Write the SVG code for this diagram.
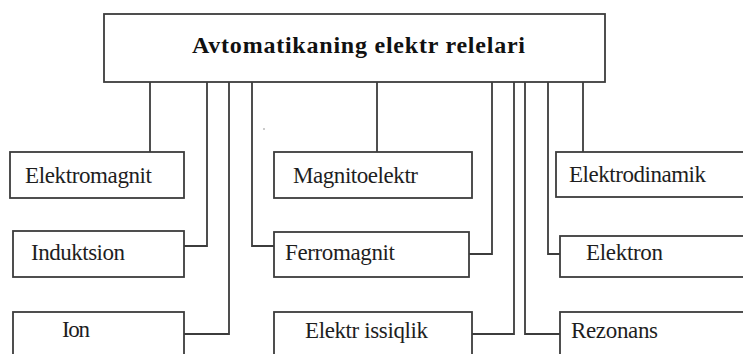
<svg xmlns="http://www.w3.org/2000/svg" width="743" height="354" viewBox="0 0 743 354">
<style>
.box{fill:#fff;stroke:#3c3c3c;stroke-width:1.8}
.ln{fill:none;stroke:#3c3c3c;stroke-width:1.8}
text{font-family:'Liberation Serif','DejaVu Serif',serif}
.t{font-size:23px;fill:#1e1e1e}
.title{font-size:24px;font-weight:bold;fill:#111}
</style>
<rect width="743" height="354" fill="#fff"/>
<g id="connectors">
<path class="ln" d="M150 82V152"/>
<path class="ln" d="M207 82V246H184"/>
<path class="ln" d="M229 82V334H184"/>
<path class="ln" d="M252 82V246H274"/>
<path class="ln" d="M377 82V152"/>
<path class="ln" d="M492 82V254H469"/>
<path class="ln" d="M514 82V334H471"/>
<path class="ln" d="M525 82V334H560"/>
<path class="ln" d="M548 82V254H560"/>
<path class="ln" d="M583 82V152"/>
</g>
<g id="root">
<rect class="box" x="104" y="14" width="501" height="68"/>
<text class="title" x="192" y="53" textLength="333" lengthAdjust="spacing">Avtomatikaning elektr relelari</text>
</g>
<g id="elektromagnit">
<rect class="box" x="10" y="152" width="174" height="46"/>
<text class="t" x="25" y="183" textLength="127" lengthAdjust="spacing">Elektromagnit</text>
</g>
<g id="magnitoelektr">
<rect class="box" x="274" y="152" width="198" height="46"/>
<text class="t" x="293" y="183" textLength="125" lengthAdjust="spacing">Magnitoelektr</text>
</g>
<g id="elektrodinamik">
<rect class="box" x="556" y="152" width="200" height="45"/>
<text class="t" x="569" y="182" textLength="137" lengthAdjust="spacing">Elektrodinamik</text>
</g>
<g id="induktsion">
<rect class="box" x="13" y="231" width="171" height="46"/>
<text class="t" x="31" y="260" textLength="94" lengthAdjust="spacing">Induktsion</text>
</g>
<g id="ferromagnit">
<rect class="box" x="274" y="232" width="195" height="45"/>
<text class="t" x="285" y="260" textLength="110" lengthAdjust="spacing">Ferromagnit</text>
</g>
<g id="elektron">
<rect class="box" x="560" y="236" width="196" height="41"/>
<text class="t" x="586" y="260" textLength="77" lengthAdjust="spacing">Elektron</text>
</g>
<g id="ion">
<rect class="box" x="13" y="312" width="171" height="60"/>
<text class="t" x="62" y="337" textLength="28" lengthAdjust="spacing">Ion</text>
</g>
<g id="elektr-issiqlik">
<rect class="box" x="274" y="312" width="198" height="60"/>
<text class="t" x="305" y="338" textLength="123" lengthAdjust="spacing">Elektr issiqlik</text>
</g>
<g id="rezonans">
<rect class="box" x="560" y="312" width="196" height="60"/>
<text class="t" x="571" y="338" textLength="87" lengthAdjust="spacing">Rezonans</text>
</g>
<circle cx="264" cy="129" r="0.8" fill="#888"/>
</svg>
